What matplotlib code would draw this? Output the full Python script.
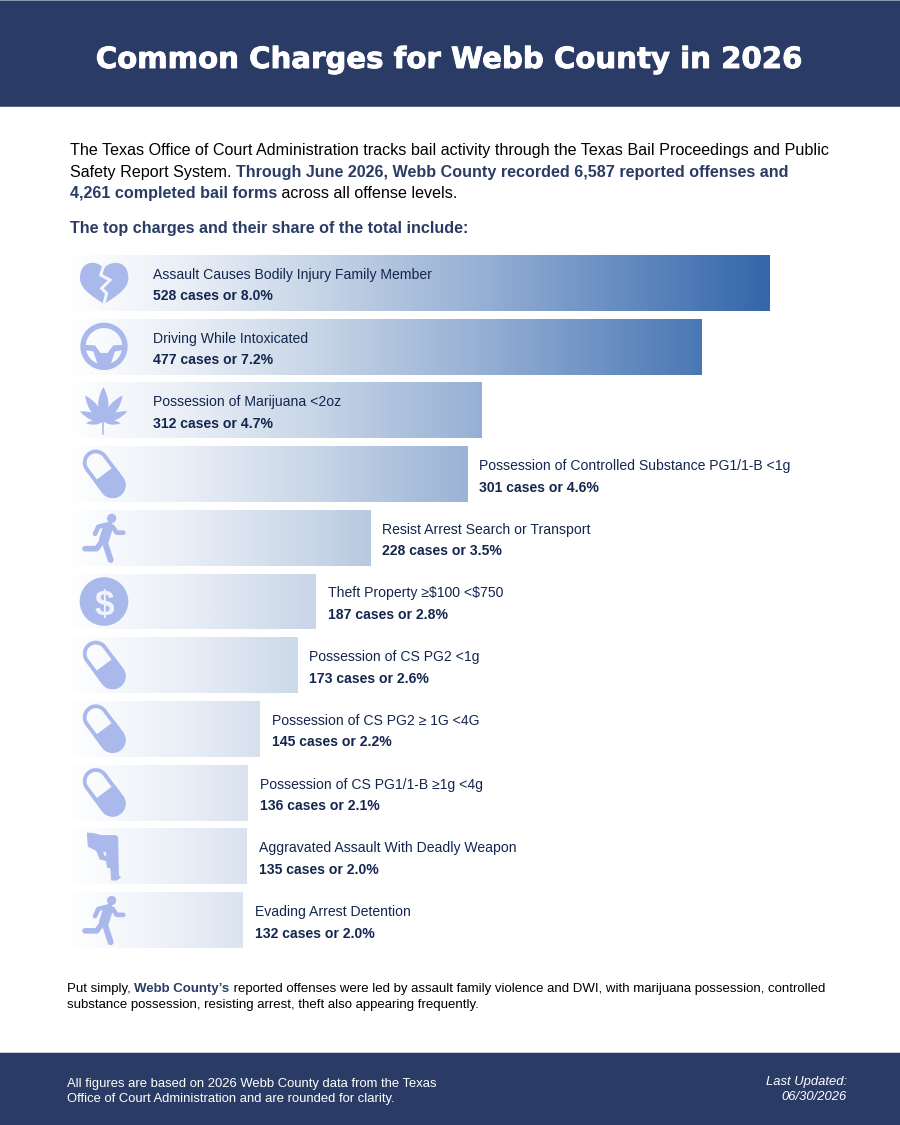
import numpy as np
import matplotlib
matplotlib.use("Agg")
import matplotlib.pyplot as plt
import matplotlib.patheffects as pe
from matplotlib.colors import LinearSegmentedColormap
from matplotlib.patches import Rectangle, PathPatch, Circle, Polygon
from matplotlib.path import Path

charges = [
    "Assault Causes Bodily Injury Family Member",
    "Driving While Intoxicated",
    "Possession of Marijuana <2oz",
    "Possession of Controlled Substance PG1/1-B <1g",
    "Resist Arrest Search or Transport",
    "Theft Property \u2265\\$100 <\\$750",
    "Possession of CS PG2 <1g",
    "Possession of CS PG2 \u2265 1G <4G",
    "Possession of CS PG1/1-B \u22651g <4g",
    "Aggravated Assault With Deadly Weapon",
    "Evading Arrest Detention",
]
cases = [528, 477, 312, 301, 228, 187, 173, 145, 136, 135, 132]
shares = [8.0, 7.2, 4.7, 4.6, 3.5, 2.8, 2.6, 2.2, 2.1, 2.0, 2.0]
icons = ["heart", "wheel", "leaf", "pill", "run", "dollar", "pill", "pill", "pill", "gun", "run"]

NAVY = "#2a3c66"
INK = "#14264f"
ICON = "#a9b9ec"
PX = 1 / 100 * 72  # one pixel in points

plt.rcParams["font.family"] = ["Liberation Sans", "DejaVu Sans"]

fig = plt.figure(figsize=(9, 11.25), dpi=100)

# bars live in a real axes, 0 cases at x=67.3px, 528 cases at x=769.3px
ROW0 = 283
PITCH = 63.7
ax = fig.add_axes([67.3 / 900, (1125 - 954) / 1125, 702 / 900, 704 / 1125])
ax.set_xlim(0, max(cases))
ax.set_ylim((954 - ROW0) / PITCH, (250 - ROW0) / PITCH)
ax.axis("off")

cmap = LinearSegmentedColormap.from_list(
    "bars",
    [(0, "#ffffff"), (0.17, "#e9eef6"), (0.35, "#c8d6e7"), (0.6, "#94aed4"), (1, "#3366aa")],
)
for i, (v, s, name) in enumerate(zip(cases, shares, charges)):
    bar = ax.barh(i, v, height=56 / PITCH, color="none")[0]
    im = ax.imshow(
        np.linspace(0, v, 256).reshape(1, -1),
        extent=(0, v, i + 0.44, i - 0.44),
        aspect="auto",
        cmap=cmap,
        vmin=0,
        vmax=max(cases),
    )
    im.set_clip_path(bar)
    # long bars hold their label, short ones have it just after the bar end
    if v >= 312:
        xy = (85.7 / 702 * max(cases), i)
        off = 0
    else:
        xy = (v, i)
        off = 12 * PX
    ax.annotate(name, xy, xytext=(off, 4 * PX), textcoords="offset points",
                fontsize=14.05 * PX, color=INK, va="baseline", ha="left")
    ax.annotate(f"{v} cases or {s:.1f}%", xy, xytext=(off, -17.5 * PX), textcoords="offset points",
                fontsize=14.05 * PX, color=INK, va="baseline", ha="left", weight="bold")
ax.set_xlim(0, max(cases))
ax.set_ylim((954 - ROW0) / PITCH, (250 - ROW0) / PITCH)

# pixel overlay for page furniture and icons
pg = fig.add_axes([0, 0, 1, 1], zorder=5)
pg.set_xlim(0, 900)
pg.set_ylim(1125, 0)
pg.axis("off")
pg.patch.set_alpha(0)

pg.add_patch(Rectangle((0, 0), 900, 107, fc=NAVY, ec="none"))
pg.add_patch(Rectangle((0, 0), 900, 1, fc="#8a96b0", ec="none"))
pg.add_patch(Rectangle((0, 106), 900, 1, fc="#55658c", ec="none"))
pg.add_patch(Rectangle((0, 1053), 900, 72, fc=NAVY, ec="none"))
pg.add_patch(Rectangle((0, 1052), 900, 1, fc="#c5cbd8", ec="none"))

title = pg.text(450, 68, "Common Charges for Webb County in 2026", color="white", ha="center", va="baseline",
                fontsize=29.2 * PX, weight="bold", family="DejaVu Sans")
title.set_path_effects([pe.withStroke(linewidth=0.9 * PX, foreground="white")])


def runs(x, y, parts, size):
    # text line made of differently styled pieces, placed one after the other
    r = fig.canvas.get_renderer()
    for txt, style in parts:
        bold = style == "b"
        t = pg.text(x, y, txt, fontsize=size * PX, va="baseline", ha="left",
                    color=NAVY if bold else "black", weight="bold" if bold else "normal")
        x += t.get_window_extent(r).width


runs(70, 155, [("The Texas Office of Court Administration tracks bail activity through the Texas Bail Proceedings and Public", "n")], 16.15)
runs(70, 177, [("Safety Report System. ", "n"), ("Through June 2026, Webb County recorded 6,587 reported offenses and", "b")], 16.15)
runs(70, 198, [("4,261 completed bail forms", "b"), (" across all offense levels.", "n")], 16.15)
runs(70, 233, [("The top charges and their share of the total include:", "b")], 16.1)
runs(67, 992, [("Put simply, ", "n"), ("Webb County\u2019s", "b"),
               (" reported offenses were led by assault family violence and DWI, with marijuana possession, controlled", "n")], 13.32)
runs(67, 1008, [("substance possession, resisting arrest, theft also appearing frequently.", "n")], 13.32)

pg.text(67, 1086.5, "All figures are based on 2026 Webb County data from the Texas", color="white",
        fontsize=13 * PX, va="baseline")
pg.text(67, 1102, "Office of Court Administration and are rounded for clarity.", color="white",
        fontsize=13 * PX, va="baseline")
pg.text(847, 1085.5, "Last Updated:", color="white", fontsize=13 * PX, va="baseline", ha="right", style="italic")
pg.text(847, 1100.5, "06/30/2026", color="white", fontsize=13 * PX, va="baseline", ha="right", style="italic")


def heart(cy):
    z = lambda x, y: (60 + x / 3, cy + (y - 99) / 3)
    verts = [(132, 55), (112, 30), (60, 28), (60, 85), (60, 122), (110, 145), (132, 163),
             (155, 145), (205, 122), (205, 85), (205, 28), (152, 30), (132, 55)]
    codes = [Path.MOVETO] + [Path.CURVE4] * 12
    pg.add_patch(PathPatch(Path([z(*p) for p in verts], codes), fc=ICON, ec="none"))
    crack = [(132, 45), (122, 75), (150, 90), (125, 115), (140, 130), (130, 168)]
    pg.plot(*zip(*[z(*p) for p in crack]), color="#f3f6fb", lw=3 * PX, solid_joinstyle="miter")


def wheel(cy):
    z = lambda x, y: (60 + x / 3, cy + (y - 99) / 3 - 64)
    c = z(132, 290)
    pg.add_patch(Circle(c, 21, fc="none", ec=ICON, lw=5.4 * PX))
    pts = [(65, 285), (105, 287), (122, 310), (142, 310), (160, 287), (200, 285), (200, 300),
           (165, 305), (150, 350), (115, 350), (100, 305), (65, 300)]
    pg.add_patch(Polygon([z(*p) for p in pts], fc=ICON, ec="none"))


def leaf(cy):
    z = lambda x, y: (70 + x / 3, cy - 28.4 + y / 3)
    base = (100, 118)
    tips = [((100, 15), 13), ((45, 40), 11), ((158, 40), 11), ((30, 88), 9), ((172, 88), 9),
            ((48, 124), 6), ((152, 124), 6)]
    for tip, w in tips:
        dx, dy = tip[0] - base[0], tip[1] - base[1]
        n = np.hypot(dx, dy)
        nx, ny = -dy / n * w * 2.4, dx / n * w * 2.4
        mx, my = base[0] + dx * 0.45, base[1] + dy * 0.45
        verts = [base, (mx + nx, my + ny), tip, (mx - nx, my - ny), base]
        codes = [Path.MOVETO, Path.CURVE3, Path.CURVE3, Path.CURVE3, Path.CURVE3]
        pg.add_patch(PathPatch(Path([z(*p) for p in verts], codes), fc=ICON, ec="none"))
    pg.plot(*zip(z(100, 110), z(100, 157)), color=ICON, lw=1.6 * PX)


def pill(cy):
    a = np.array([95.8, cy - 11.5])
    b = np.array([112.6, cy + 11])
    r = 13
    ang = np.arctan2(*(b - a)[::-1])
    t1 = np.linspace(ang + np.pi / 2, ang + 3 * np.pi / 2, 40)
    t2 = np.linspace(ang - np.pi / 2, ang + np.pi / 2, 40)

    def caps(rad):
        return np.vstack([a + rad * np.c_[np.cos(t1), np.sin(t1)], b + rad * np.c_[np.cos(t2), np.sin(t2)]])

    fill = pg.add_patch(Polygon(caps(r), fc=ICON, ec="none"))
    mid = (a + b) / 2 + np.array([-0.2, 0.2])
    d = (b - a) / np.hypot(*(b - a))
    n = np.array([-d[1], d[0]])
    half = Polygon([mid + n * 30, mid - n * 30, mid - n * 30 + d * 40, mid + n * 30 + d * 40],
                   transform=pg.transData, fc="none", ec="none")
    pg.add_patch(half)
    fill.set_clip_path(half)
    pg.add_patch(Polygon(caps(r - 1.9), fc="none", ec=ICON, lw=3.8 * PX))


def run(cy):
    z = lambda x, y: (70 + x / 3, cy - 27.8 + y / 3)
    pg.add_patch(Circle(z(125, 25), 4.6, fc=ICON, ec="none"))
    limbs = [
        ([(75, 72), (85, 50), (120, 42)], 4.6),
        ([(128, 50), (140, 68), (160, 68)], 4.6),
        ([(98, 92), (80, 116), (45, 116)], 5.6),
        ([(103, 92), (122, 150)], 6),
        ([(114, 52), (102, 90)], 10),
    ]
    for pts, w in limbs:
        pg.plot(*zip(*[z(*p) for p in pts]), color=ICON, lw=w * PX,
                solid_capstyle="round", solid_joinstyle="round")


def dollar(cy):
    pg.add_patch(Circle((104, cy), 24.3, fc=ICON, ec="none"))
    pg.text(104, cy, "\\$", color="#f1f4fa", fontsize=35 * PX, weight="bold", ha="center",
            va="center_baseline")


def gun(cy):
    z = lambda x, y: (70 + x / 3, cy - 27.3 + y / 3)
    pts = [(52, 12), (70, 14), (95, 20), (138, 20), (143, 25), (145, 140), (151, 145), (140, 153),
           (125, 153), (122, 115), (112, 115), (110, 95), (90, 90), (80, 65), (55, 52)]
    pg.add_patch(Polygon([z(*p) for p in pts], fc=ICON, ec=ICON, lw=1 * PX, joinstyle="round"))
    pg.add_patch(Polygon([z(*p) for p in [(99, 68), (108, 69), (109, 82), (103, 80)]], fc="#eef2f8", ec="none"))


draw = {"heart": heart, "wheel": wheel, "leaf": leaf, "pill": pill, "run": run, "dollar": dollar, "gun": gun}
for i, kind in enumerate(icons):
    draw[kind](ROW0 + PITCH * i)

pg.set_xlim(0, 900)
pg.set_ylim(1125, 0)
fig.savefig("out.png", dpi=100)
